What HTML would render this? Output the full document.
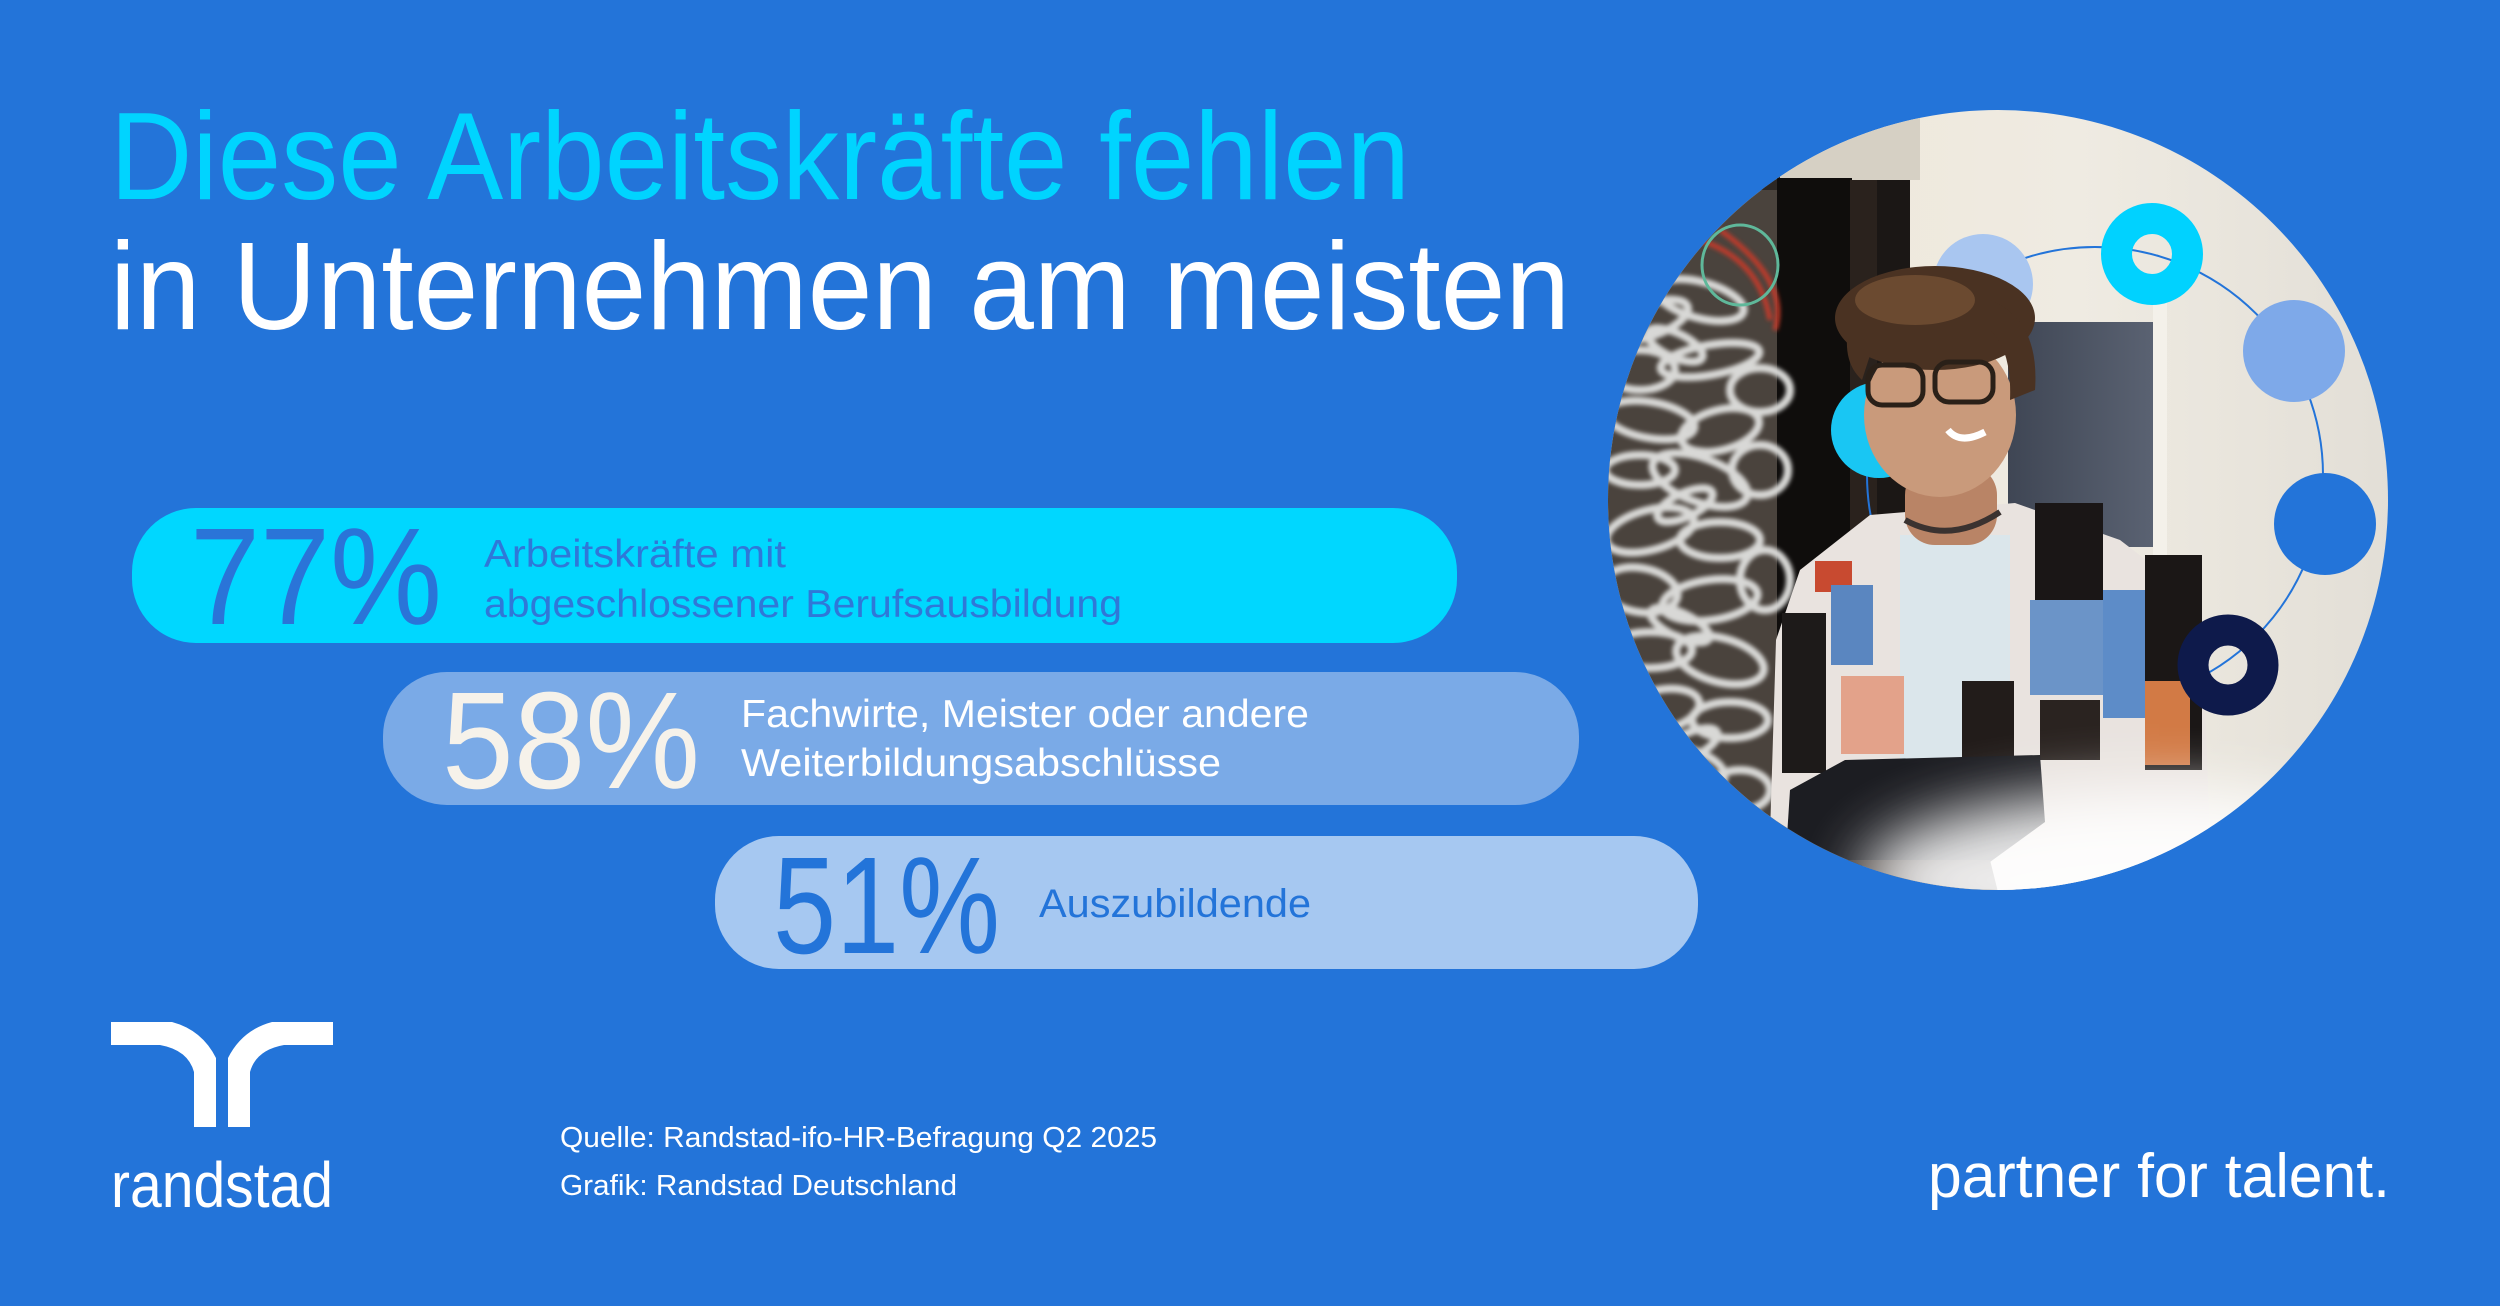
<!DOCTYPE html>
<html><head><meta charset="utf-8"><style>
html,body{margin:0;padding:0;background:#2374D9;}
svg{display:block;}
text{font-family:"Liberation Sans",sans-serif;}
</style></head><body>
<svg width="2500" height="1306" viewBox="0 0 2500 1306" xmlns="http://www.w3.org/2000/svg">
<defs>
<clipPath id="pc"><circle cx="1998" cy="500" r="390"/></clipPath>
<filter id="bl" x="-20%" y="-20%" width="140%" height="140%"><feGaussianBlur stdDeviation="2"/></filter>
<filter id="bl2" x="-50%" y="-50%" width="200%" height="200%"><feGaussianBlur stdDeviation="30"/></filter>
<linearGradient id="door" x1="0" x2="1" y1="0" y2="0"><stop offset="0" stop-color="#3f4654"/><stop offset="1" stop-color="#5a6272"/></linearGradient>
<linearGradient id="wall" x1="0" x2="1" y1="0" y2="0"><stop offset="0" stop-color="#eee6d6"/><stop offset="0.6" stop-color="#efebe2"/><stop offset="1" stop-color="#e2ded6"/></linearGradient>
</defs>
<rect width="2500" height="1306" fill="#2374D9"/>

<!-- Title -->
<text x="110" y="199" font-size="124" fill="#00D4FF" textLength="1300" lengthAdjust="spacingAndGlyphs">Diese Arbeitskräfte fehlen</text>
<text x="110" y="329" font-size="124" fill="#FFFFFF" textLength="1460" lengthAdjust="spacingAndGlyphs">in Unternehmen am meisten</text>

<!-- Bars -->
<rect x="132" y="508" width="1325" height="135" rx="64" fill="#00D7FF"/>
<rect x="383" y="672" width="1196" height="133" rx="64" fill="#7AAAE7"/>
<rect x="715" y="836" width="983" height="133" rx="64" fill="#A6C8F1"/>

<text x="190" y="624" font-size="138" fill="#2A74D8" textLength="252" lengthAdjust="spacingAndGlyphs">77%</text>
<text x="484" y="567" font-size="39" fill="#2F78D8" textLength="302" lengthAdjust="spacingAndGlyphs">Arbeitskräfte mit</text>
<text x="484" y="617" font-size="39" fill="#2F78D8" textLength="638" lengthAdjust="spacingAndGlyphs">abgeschlossener Berufsausbildung</text>

<text x="442" y="788" font-size="138" fill="#F6F2EA" textLength="258" lengthAdjust="spacingAndGlyphs">58%</text>
<text x="741" y="727" font-size="39" fill="#FFFFFF" textLength="568" lengthAdjust="spacingAndGlyphs">Fachwirte, Meister oder andere</text>
<text x="741" y="776" font-size="39" fill="#FFFFFF" textLength="480" lengthAdjust="spacingAndGlyphs">Weiterbildungsabschlüsse</text>

<text x="773" y="953" font-size="138" fill="#2374D9" textLength="227" lengthAdjust="spacingAndGlyphs">51%</text>
<text x="1039" y="917" font-size="40" fill="#2374D9" textLength="272" lengthAdjust="spacingAndGlyphs">Auszubildende</text>

<!-- Photo circle -->
<g clip-path="url(#pc)">
  <rect x="1600" y="100" width="800" height="800" fill="url(#wall)"/>
  <rect x="1780" y="100" width="140" height="80" fill="#d6d0c4"/>
  <rect x="1600" y="180" width="190" height="720" fill="#4a433d"/>
  <rect x="1600" y="150" width="180" height="40" fill="#2c2724"/>
  <rect x="1777" y="178" width="75" height="720" fill="#0f0d0c"/>
  <rect x="1850" y="180" width="28" height="720" fill="#2a221d"/>
  <rect x="1877" y="180" width="33" height="720" fill="#1b1715"/>
  <g fill="none" stroke="#d8d8d6" stroke-width="8" filter="url(#bl)">
    <ellipse cx="1650" cy="320" rx="40" ry="16" transform="rotate(-20 1650 320)"/>
    <ellipse cx="1700" cy="300" rx="45" ry="18" transform="rotate(15 1700 300)"/>
    <ellipse cx="1640" cy="370" rx="35" ry="20"/>
    <ellipse cx="1710" cy="360" rx="50" ry="15" transform="rotate(-10 1710 360)"/>
    <ellipse cx="1760" cy="390" rx="30" ry="22"/>
    <ellipse cx="1650" cy="420" rx="45" ry="18" transform="rotate(10 1650 420)"/>
    <ellipse cx="1720" cy="430" rx="40" ry="20" transform="rotate(-15 1720 430)"/>
    <ellipse cx="1640" cy="470" rx="35" ry="15"/>
    <ellipse cx="1700" cy="480" rx="50" ry="22" transform="rotate(20 1700 480)"/>
    <ellipse cx="1760" cy="470" rx="28" ry="25"/>
    <ellipse cx="1650" cy="530" rx="45" ry="20" transform="rotate(-15 1650 530)"/>
    <ellipse cx="1720" cy="540" rx="40" ry="18"/>
    <ellipse cx="1640" cy="590" rx="38" ry="22" transform="rotate(10 1640 590)"/>
    <ellipse cx="1710" cy="600" rx="48" ry="20" transform="rotate(-8 1710 600)"/>
    <ellipse cx="1765" cy="580" rx="25" ry="30"/>
    <ellipse cx="1650" cy="650" rx="42" ry="18"/>
    <ellipse cx="1720" cy="660" rx="45" ry="22" transform="rotate(15 1720 660)"/>
    <ellipse cx="1660" cy="710" rx="40" ry="20" transform="rotate(-12 1660 710)"/>
    <ellipse cx="1730" cy="720" rx="38" ry="18"/>
    <ellipse cx="1680" cy="770" rx="45" ry="22" transform="rotate(10 1680 770)"/>
    <ellipse cx="1740" cy="790" rx="30" ry="20"/>
    <ellipse cx="1700" cy="830" rx="42" ry="18"/>
    <ellipse cx="1675" cy="345" rx="30" ry="12" transform="rotate(25 1675 345)"/>
    <ellipse cx="1685" cy="505" rx="30" ry="12" transform="rotate(-25 1685 505)"/>
    <ellipse cx="1680" cy="625" rx="32" ry="12" transform="rotate(25 1680 625)"/>
    <ellipse cx="1690" cy="745" rx="30" ry="12" transform="rotate(-25 1690 745)"/>
  </g>
  <g fill="none" stroke="#c23a2a" stroke-width="5" filter="url(#bl)">
    <path d="M1700,240 Q1760,260 1770,320"/>
    <path d="M1720,230 Q1790,280 1775,330"/>
    <path d="M1640,800 Q1700,780 1760,820"/>
  </g>
  <ellipse cx="1740" cy="265" rx="38" ry="40" fill="none" stroke="#5fb89a" stroke-width="3"/>
  <rect x="2008" y="322" width="145" height="225" fill="url(#door)"/>
  <rect x="2153" y="300" width="14" height="580" fill="#f4f1ea"/>
  <circle cx="2095" cy="475" r="228" fill="none" stroke="#2374D9" stroke-width="2"/>
  <circle cx="1983" cy="284" r="50" fill="#A9C6F0"/>
  <circle cx="1879" cy="430" r="48" fill="#19C6F3"/>
  <!-- person -->
  <path d="M1870,515 L2015,503 L2120,540 L2185,590 L2205,700 L2212,900 L1768,900 L1776,640 L1800,570 Z" fill="#e9e3df"/>
  <rect x="1900" y="535" width="110" height="230" fill="#dbe6eb"/>
  <rect x="2035" y="503" width="68" height="110" fill="#1a1616"/>
  <rect x="2145" y="555" width="57" height="215" fill="#1b1716"/>
  <rect x="2030" y="600" width="73" height="95" fill="#6b94c8"/>
  <rect x="2103" y="590" width="42" height="128" fill="#5d8cc8"/>
  <rect x="2145" y="681" width="45" height="84" fill="#d27a45"/>
  <rect x="1815" y="561" width="37" height="31" fill="#c84a30"/>
  <rect x="1831" y="585" width="42" height="80" fill="#5a86c0"/>
  <rect x="1782" y="613" width="44" height="160" fill="#1d1a19"/>
  <rect x="1841" y="676" width="63" height="78" fill="#e3a28a"/>
  <rect x="1962" y="681" width="52" height="84" fill="#221c1a"/>
  <rect x="2040" y="700" width="60" height="60" fill="#2a2320"/>
  <rect x="1905" y="465" width="92" height="80" rx="30" fill="#b98466"/>
  <path d="M1905,520 Q1950,545 2000,512" stroke="#3a3230" stroke-width="6" fill="none"/>
  <ellipse cx="1940" cy="415" rx="76" ry="82" fill="#c99a7b"/>
  <ellipse cx="1935" cy="318" rx="100" ry="52" fill="#4a3222"/>
  <ellipse cx="1915" cy="300" rx="60" ry="25" fill="#6b4a30"/>
  <path d="M1990,300 Q2040,320 2035,390 L2010,400 Q2012,350 1990,330 Z" fill="#4a3222"/>
  <path d="M1850,320 Q1840,360 1862,380 L1875,340 Z" fill="#4a3222"/>
  <rect x="1868" y="365" width="55" height="40" rx="14" fill="none" stroke="#2a2018" stroke-width="5"/>
  <rect x="1935" y="362" width="58" height="40" rx="14" fill="none" stroke="#2a2018" stroke-width="5"/>
  <path d="M1948,430 Q1960,445 1985,432" stroke="#fff" stroke-width="7" fill="none"/>
  <path d="M1790,790 L1845,760 L2040,755 L2045,822 L1990,862 L1785,868 Z" fill="#1c1d22"/>
  <path d="M1770,860 L1990,860 L2000,900 L1760,900 Z" fill="#3a3330"/>
  <ellipse cx="2160" cy="880" rx="300" ry="90" fill="#ffffff" opacity="0.9" filter="url(#bl2)"/>
  <circle cx="2152" cy="254" r="35.5" fill="none" stroke="#00D2FF" stroke-width="31"/>
  <circle cx="2294" cy="351" r="51" fill="#7EA9E9"/>
  <circle cx="2325" cy="524" r="51" fill="#2374D9"/>
  <circle cx="2228" cy="665" r="35" fill="none" stroke="#0E1A4B" stroke-width="31"/>
</g>

<!-- Logo -->
<path d="M111,1022 L172,1022 Q202,1030 216,1058 L216,1127 L194,1127 L194,1072 Q188,1050 160,1045 L111,1045 Z" fill="#FFFFFF"/>
<path d="M333,1022 L272,1022 Q242,1030 228,1058 L228,1127 L250,1127 L250,1072 Q256,1050 284,1045 L333,1045 Z" fill="#FFFFFF"/>
<text x="111" y="1207" font-size="64" fill="#FFFFFF" textLength="222" lengthAdjust="spacingAndGlyphs">randstad</text>

<text x="560" y="1147" font-size="29" fill="#FFFFFF" textLength="597" lengthAdjust="spacingAndGlyphs">Quelle: Randstad-ifo-HR-Befragung Q2 2025</text>
<text x="560" y="1195" font-size="29" fill="#FFFFFF" textLength="397" lengthAdjust="spacingAndGlyphs">Grafik: Randstad Deutschland</text>

<text x="1928" y="1197" font-size="62" fill="#FFFFFF" textLength="462" lengthAdjust="spacingAndGlyphs">partner for talent.</text>
</svg>
</body></html>
